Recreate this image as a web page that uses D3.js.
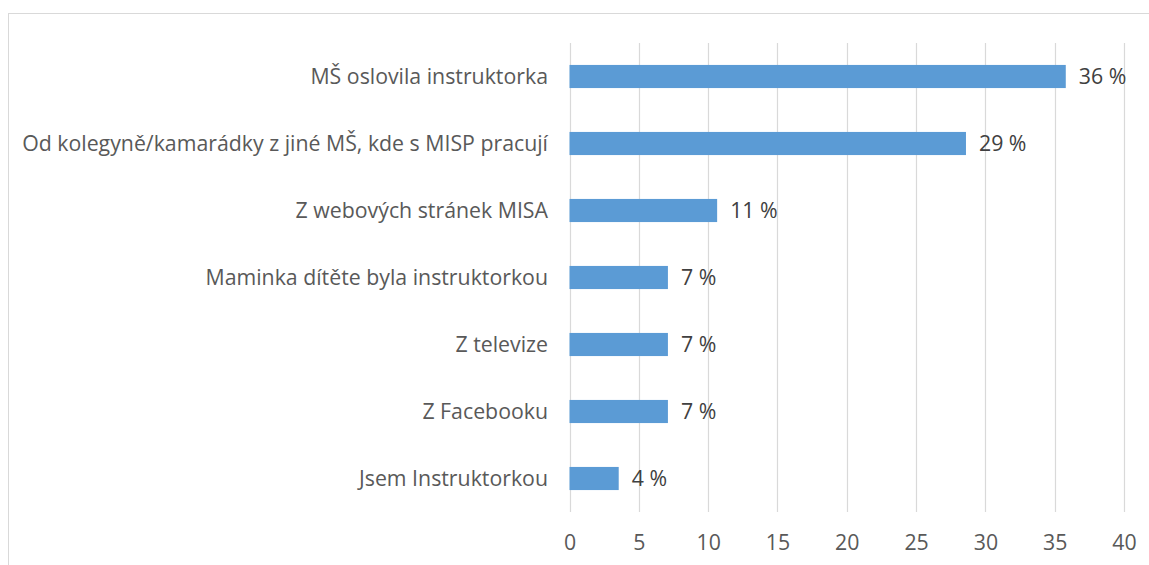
<!DOCTYPE html>
<html>
<head>
<meta charset="utf-8">
<script src="https://cdn.jsdelivr.net/npm/d3@7"></script>
<style>
  html, body { margin: 0; padding: 0; background: #fff; }
  svg { display: block; font-family: "Open Sans", Lato, sans-serif; }
</style>
</head>
<body>
<svg id="chart" width="1149" height="565"></svg>
<script>
// categories top to bottom
var categories = [
  "MŠ oslovila instruktorka",
  "Od kolegyně/kamarádky z jiné MŠ, kde s MISP pracují",
  "Z webových stránek MISA",
  "Maminka dítěte byla instruktorkou",
  "Z televize",
  "Z Facebooku",
  "Jsem Instruktorkou"
];
var values = [35.8, 28.6, 10.65, 7.1, 7.1, 7.1, 3.55];
var valueLabels = ["36 %", "29 %", "11 %", "7 %", "7 %", "7 %", "4 %"];
var xTicks = [0, 5, 10, 15, 20, 25, 30, 35, 40];

var svg = d3.select('#chart');
var m = {top: 43, left: 569.5, right: 25, bottom: 53};

// outer chart frame (only top and left visible)
svg.append('rect')
  .attr('x', 8.5).attr('y', 13.5)
  .attr('width', 1160).attr('height', 600)
  .attr('fill', 'none').attr('stroke', '#d9d9d9').attr('stroke-width', 1);

var x = d3.scaleLinear().domain([0, 40]).range([m.left, 1124]);
var y = d3.scaleBand().domain(categories).range([m.top, 512])
  .paddingInner(0.655).paddingOuter(0.3275);

// gridlines
svg.append('g').selectAll('line')
  .data(xTicks)
  .enter().append('line')
  .attr('x1', function(d){ return Math.round(x(d)) + 0.5; })
  .attr('x2', function(d){ return Math.round(x(d)) + 0.5; })
  .attr('y1', m.top).attr('y2', 512)
  .attr('stroke', '#d9d9d9').attr('stroke-width', 1.2);

// bars
svg.append('g').selectAll('rect')
  .data(values)
  .enter().append('rect')
  .attr('x', x(0))
  .attr('y', function(d, i){ return y(categories[i]); })
  .attr('width', function(d){ return x(d) - x(0); })
  .attr('height', y.bandwidth())
  .attr('fill', '#5b9bd5');

// category axis labels
var catText = svg.append('g').selectAll('text')
  .data(categories)
  .enter().append('text')
  .attr('x', 548)
  .attr('y', function(d){ return y(d) + y.bandwidth() / 2; })
  .attr('dy', '0.35em')
  .attr('text-anchor', 'end')
  .attr('fill', '#595959')
  .attr('font-size', 18)
  .text(function(d){ return d; });

// fit font size so the longest label spans like the original (~526px)
var longest = catText.filter(function(d, i){ return i === 1; }).node().getComputedTextLength();
var fs = 18 * 526 / longest;
catText.attr('font-size', fs);

// value labels
svg.append('g').selectAll('text')
  .data(values)
  .enter().append('text')
  .attr('x', function(d){ return x(d) + 13; })
  .attr('y', function(d, i){ return y(categories[i]) + y.bandwidth() / 2; })
  .attr('dy', '0.35em')
  .attr('fill', '#404040')
  .attr('font-size', fs)
  .text(function(d, i){ return valueLabels[i]; });

// x axis
var xAxis = d3.axisBottom(x).tickValues(xTicks).tickSize(0).tickPadding(0);
var gx = svg.append('g').attr('transform', 'translate(0,' + 543 + ')').call(xAxis);
gx.select('.domain').remove();
gx.selectAll('text')
  .attr('dy', '0.35em')
  .attr('y', 0)
  .attr('fill', '#595959')
  .attr('font-size', fs)
  .attr('font-family', '"Open Sans", Lato, sans-serif');
</script>
</body>
</html>
